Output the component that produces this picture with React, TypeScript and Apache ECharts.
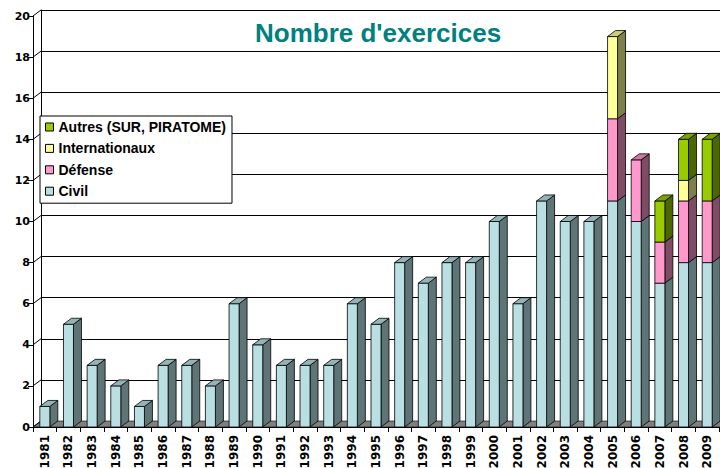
import React, { useEffect, useRef } from "react";
import * as echarts from "echarts";

const years = ["1981","1982","1983","1984","1985","1986","1987","1988","1989","1990","1991","1992","1993","1994","1995","1996","1997","1998","1999","2000","2001","2002","2003","2004","2005","2006","2007","2008","2009"];
const civil = [1,5,3,2,1,3,3,2,6,4,3,3,3,6,5,8,7,8,8,10,6,11,10,10,11,10,7,8,8];
const defense = [0,0,0,0,0,0,0,0,0,0,0,0,0,0,0,0,0,0,0,0,0,0,0,0,4,3,2,3,3];
const internationaux = [0,0,0,0,0,0,0,0,0,0,0,0,0,0,0,0,0,0,0,0,0,0,0,0,4,0,0,1,0];
const autres = [0,0,0,0,0,0,0,0,0,0,0,0,0,0,0,0,0,0,0,0,0,0,0,0,0,0,2,2,3];
const yTicks = [0,2,4,6,8,10,12,14,16,18,20];

const seriesDefs = [
  { name: "Civil", values: civil, front: "#B9DFE3", side: "#5E7477", top: "#93B3B6" },
  { name: "Défense", values: defense, front: "#FF99CC", side: "#7F4C66", top: "#CC7AA3" },
  { name: "Internationaux", values: internationaux, front: "#FFFF99", side: "#7F7F4C", top: "#CCCC7A" },
  { name: "Autres (SUR, PIRATOME)", values: autres, front: "#99CC00", side: "#4C6600", top: "#7AA300" },
];

const L = 33, R = 719, T = 16, B = 427, DX = 8, DY = -6;
const AX_FONT = "'DejaVu Sans', sans-serif";
const TXT_FONT = "'Liberation Sans', Arial, sans-serif";

export default function App() {
  const ref = useRef<HTMLDivElement>(null);
  useEffect(() => {
    if (!ref.current) return;
    const chart = echarts.init(ref.current, undefined, { renderer: "svg" });
    const totals = years.map((_, i) => seriesDefs.reduce((s, d) => s + d.values[i], 0));
    const base = years.map(() => 0);
    const series: any[] = seriesDefs.map((d) => {
      const data = d.values.map((v, i) => {
        const b = base[i];
        base[i] += v;
        return [i, b, b + v, b + v === totals[i] && v > 0 ? 1 : 0];
      });
      return {
        type: "custom",
        name: d.name,
        xAxisIndex: 0,
        yAxisIndex: 0,
        clip: false,
        z: 3,
        itemStyle: { color: d.front },
        encode: { x: 0, y: [1, 2] },
        data,
        renderItem: (params: any, api: any) => {
          const i = api.value(0), b = api.value(1), t = api.value(2), isTop = api.value(3);
          if (t <= b) return null;
          const p0 = api.coord([i, b]);
          const p1 = api.coord([i, t]);
          const w = 10;
          const x0 = p0[0] - w / 2;
          const y0 = p0[1], y1 = p1[1];
          const st = { stroke: "#000", lineWidth: 0.8 };
          const children: any[] = [
            { type: "polygon", shape: { points: [[x0 + w, y0], [x0 + w + DX, y0 + DY], [x0 + w + DX, y1 + DY], [x0 + w, y1]] }, style: { fill: d.side, ...st } },
            { type: "rect", shape: { x: x0, y: y1, width: w, height: y0 - y1 }, style: { fill: d.front, ...st } },
          ];
          if (isTop) {
            children.push({ type: "polygon", shape: { points: [[x0, y1], [x0 + w, y1], [x0 + w + DX, y1 + DY], [x0 + DX, y1 + DY]] }, style: { fill: d.top, ...st } });
          }
          return { type: "group", children };
        },
      };
    });

    const graphic: any[] = [
      { type: "polygon", z: 1, shape: { points: [[L, B], [R + 10, B], [R + 10 + DX, B + DY], [L + DX, B + DY]] }, style: { fill: "#808080", stroke: "#000", lineWidth: 0.6 } },
      ...yTicks.map((v) => {
        const yf = B - (B - T) * (v / 20);
        return { type: "line", z: 1, shape: { x1: L, y1: yf, x2: L + DX, y2: yf + DY }, style: { stroke: "#000", lineWidth: 1 } };
      }),
    ];

    chart.setOption({
      animation: false,
      backgroundColor: "#fff",
      title: {
        text: "Nombre d'exercices",
        left: 255,
        top: 20,
        padding: 0,
        textStyle: { color: "#008080", fontSize: 26, fontWeight: "bold", fontFamily: TXT_FONT },
      },
      legend: {
        data: ["Autres (SUR, PIRATOME)", "Internationaux", "Défense", "Civil"],
        orient: "vertical",
        left: 40,
        top: 116,
        padding: [4, 6, 5, 5],
        itemGap: 7.4,
        itemWidth: 8,
        itemHeight: 8,
        icon: "rect",
        backgroundColor: "#fff",
        borderColor: "#000",
        borderWidth: 1,
        itemStyle: { borderColor: "#000", borderWidth: 1 },
        textStyle: { fontSize: 14, fontWeight: "bold", fontFamily: TXT_FONT, color: "#000", lineHeight: 14 },
        z: 10,
      },
      grid: [
        { left: L, right: 720 - R, top: T, bottom: 468 - B, containLabel: false, outerBoundsMode: "none" },
        { left: L + DX, right: 0, top: T + DY, bottom: 468 - B - DY, containLabel: false, outerBoundsMode: "none" },
      ],
      xAxis: [
        {
          type: "category",
          gridIndex: 0,
          data: years,
          boundaryGap: true,
          axisLine: { lineStyle: { color: "#000", width: 1 } },
          axisTick: { show: true, length: 5, lineStyle: { color: "#000" } },
          axisLabel: { rotate: 90, margin: 8, fontSize: 12, fontWeight: "bold", fontFamily: AX_FONT, color: "#000", interval: 0 },
          splitLine: { show: false },
          z: 2,
        },
        { type: "value", gridIndex: 1, show: false, min: 0, max: 1 },
      ],
      yAxis: [
        {
          type: "value",
          gridIndex: 0,
          min: 0,
          max: 20,
          interval: 2,
          axisLine: { show: true, lineStyle: { color: "#000", width: 1 } },
          axisTick: { show: true, length: 5, lineStyle: { color: "#000" } },
          axisLabel: { margin: 3, fontSize: 11, fontWeight: "bold", fontFamily: AX_FONT, color: "#000" },
          splitLine: { show: false },
          z: 2,
        },
        {
          type: "value",
          gridIndex: 1,
          min: 0,
          max: 20,
          interval: 2,
          axisLine: { show: true, lineStyle: { color: "#000", width: 1 } },
          axisTick: { show: false },
          axisLabel: { show: false },
          splitLine: { show: true, lineStyle: { color: "#000", width: 1 } },
        },
      ],
      graphic,
      series,
    });
    return () => chart.dispose();
  }, []);
  return <div ref={ref} style={{ position: "fixed", left: 0, top: 0, width: 720, height: 468 }} />;
}
